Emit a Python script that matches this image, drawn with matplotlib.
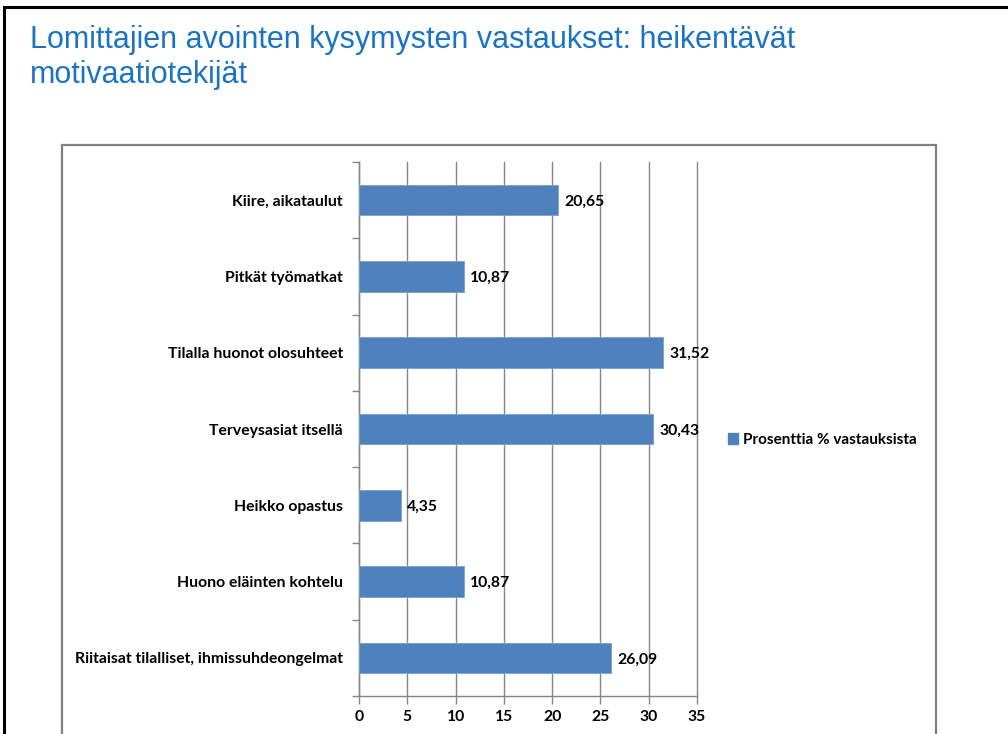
import matplotlib
matplotlib.use("Agg")
import matplotlib.pyplot as plt
from matplotlib.patches import Rectangle, Patch
from matplotlib.ticker import FixedLocator

categories = [
    "Kiire, aikataulut",
    "Pitkät työmatkat",
    "Tilalla huonot olosuhteet",
    "Terveysasiat itsellä",
    "Heikko opastus",
    "Huono eläinten kohtelu",
    "Riitaisat tilalliset, ihmissuhdeongelmat",
]
values = [20.65, 10.87, 31.52, 30.43, 4.35, 10.87, 26.09]
value_labels = ["20,65", "10,87", "31,52", "30,43", "4,35", "10,87", "26,09"]
xticks = [0, 5, 10, 15, 20, 25, 30, 35]
series_name = "Prosenttia % vastauksista"
title = "Lomittajien avointen kysymysten vastaukset: heikentävät\nmotivaatiotekijät"

W, H = 1008, 734
fig = plt.figure(figsize=(W / 100, H / 100), dpi=100)

# slide frame and chart box (pixel coords -> figure fraction)
def px(x, y):
    return x / W, 1 - y / H

fig.patches.append(Rectangle(px(4, 800), 1100 / W, 793 / H, transform=fig.transFigure,
                             fill=False, edgecolor="black", linewidth=2.2))
fig.patches.append(Rectangle(px(62, 800), 874 / W, 655 / H, transform=fig.transFigure,
                             fill=False, edgecolor="#7f7f7f", linewidth=1.6))

# title, baseline of first line at ~48 px
fig.text(30 / W, 1 - 48 / H, title.split("\n")[0], color="#1a74c2", fontsize=22,
         family="Liberation Sans", va="baseline", ha="left")
fig.text(30 / W, 1 - 83 / H, title.split("\n")[1], color="#1a74c2", fontsize=22,
         family="Liberation Sans", va="baseline", ha="left")

ax = fig.add_axes([359 / W, 1 - 696 / H, (697 - 359) / W, (696 - 162) / H])
y = list(range(len(categories)))
bars = ax.barh(y, values, height=0.4, color="#4f81bd", edgecolor="#7ba0cd",
               linewidth=0.6, zorder=3)
ax.set_ylim(len(categories) - 0.5, -0.5)
ax.set_xlim(0, 35)

font = dict(family="Lato", fontweight="bold", fontsize=11.3)
for b, lab in zip(bars, value_labels):
    ax.text(b.get_width() + 0.65, b.get_y() + b.get_height() / 2, lab,
            va="center_baseline", ha="left", **font, zorder=4)

ax.set_yticks(y)
ax.set_yticklabels(categories, **font)
ax.yaxis.set_minor_locator(FixedLocator([i - 0.5 for i in range(len(categories) + 1)]))
ax.tick_params(axis="y", which="major", length=0, pad=11.5)
ax.tick_params(axis="y", which="minor", length=5, color="#868686", width=1)

ax.set_xticks(xticks)
ax.set_xticklabels([str(t) for t in xticks], **font)
ax.tick_params(axis="x", length=6, color="#868686", width=1, pad=4)
ax.grid(axis="x", color="#868686", linewidth=1, zorder=0)
for gl in ax.get_xgridlines():
    gl.set_clip_on(False)

for s in ("top", "right"):
    ax.spines[s].set_visible(False)
for s in ("left", "bottom"):
    ax.spines[s].set_color("#868686")
    ax.spines[s].set_linewidth(1)

handle = Patch(facecolor="#4f81bd", edgecolor="#4f81bd")
fig.legend([handle], [series_name], loc="center left",
           bbox_to_anchor=(714 / W, 1 - 440 / H), frameon=False,
           prop=dict(family="Lato", weight="bold", size=11),
           handlelength=0.7, handleheight=0.7, handletextpad=0.3)

fig.savefig("out.png", dpi=100)
